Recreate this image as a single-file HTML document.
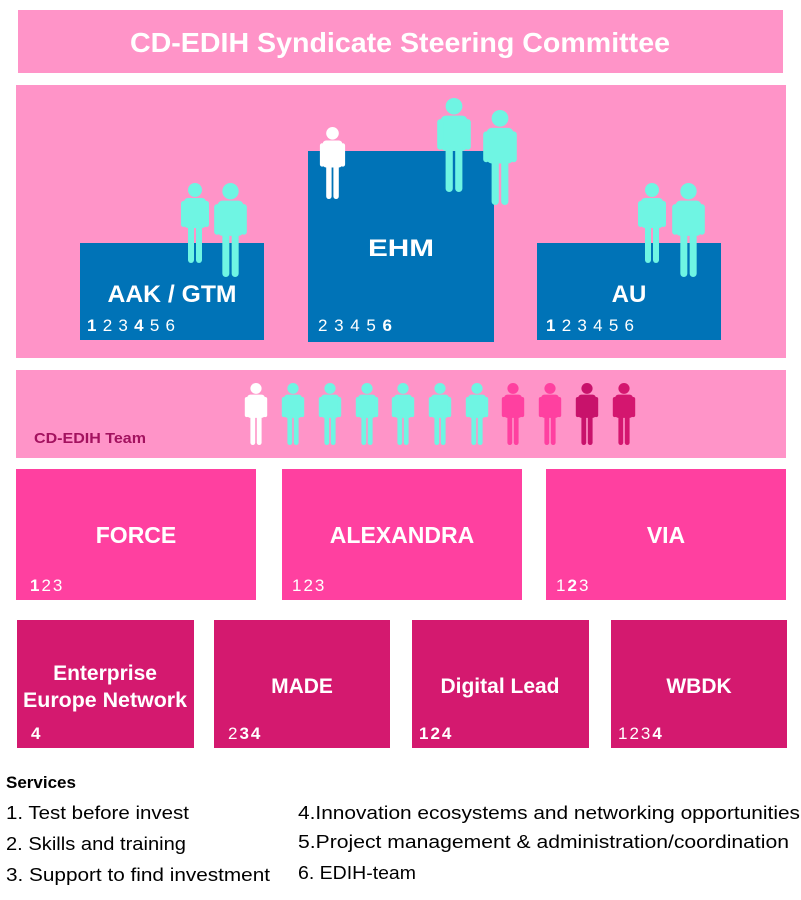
<!DOCTYPE html>
<html><head><meta charset="utf-8"><style>
html,body{margin:0;padding:0;background:#fff;}
svg{display:block;}
text{font-family:"Liberation Sans",sans-serif;}
</style></head><body>
<svg width="801" height="900" viewBox="0 0 801 900" xmlns="http://www.w3.org/2000/svg">
<defs>
<symbol id="p" viewBox="0 0 30 80" preserveAspectRatio="none">
<circle cx="15" cy="7" r="7"/>
<rect x="4" y="15" width="22" height="30" rx="4"/>
<rect x="1" y="18" width="5" height="26" rx="2.5"/>
<rect x="24" y="18" width="5" height="26" rx="2.5"/>
<rect x="8" y="40" width="6" height="40" rx="3"/>
<rect x="16" y="40" width="6" height="40" rx="3"/>
</symbol>
</defs>
<rect x="18" y="10" width="765" height="63" fill="#ff94c8"/>
<text x="400" y="52" text-anchor="middle" font-size="28" font-weight="bold" fill="#fff" textLength="540" lengthAdjust="spacingAndGlyphs">CD-EDIH Syndicate Steering Committee</text>

<rect x="16" y="85" width="770" height="273" fill="#ff94c8"/>
<rect x="80" y="243" width="184" height="97" fill="#0073b7"/>
<rect x="308" y="151" width="186" height="191" fill="#0073b7"/>
<rect x="537" y="243" width="184" height="97" fill="#0073b7"/>
<text x="172" y="302" text-anchor="middle" font-size="24" font-weight="bold" fill="#fff" textLength="129" lengthAdjust="spacingAndGlyphs">AAK / GTM</text>
<text x="401" y="256" text-anchor="middle" font-size="24" font-weight="bold" fill="#fff" textLength="66" lengthAdjust="spacingAndGlyphs">EHM</text>
<text x="629" y="302" text-anchor="middle" font-size="24" font-weight="bold" fill="#fff">AU</text>
<text x="87" y="331" font-size="17" fill="#fff" textLength="88"><tspan font-weight="bold">1</tspan>23<tspan font-weight="bold">4</tspan>56</text>
<text x="318" y="331" font-size="17" fill="#fff" textLength="74">2345<tspan font-weight="bold">6</tspan></text>
<text x="546" y="331" font-size="17" fill="#fff" textLength="88"><tspan font-weight="bold">1</tspan>23456</text>
<g fill="#6ff5e3">
<use href="#p" x="180" y="183" width="30" height="80"/>
<use href="#p" x="213" y="183" width="35" height="94"/>
<use href="#p" x="436" y="98" width="36" height="94"/>
<use href="#p" x="482" y="110" width="36" height="95"/>
<use href="#p" x="637" y="183" width="30" height="80"/>
<use href="#p" x="671" y="183" width="35" height="94"/>
</g>
<use href="#p" x="319" y="127" width="27" height="72" fill="#fff"/>

<rect x="16" y="370" width="770" height="88" fill="#ff94c8"/>
<text x="34" y="443" font-size="15" font-weight="bold" fill="#a3125f" textLength="112" lengthAdjust="spacingAndGlyphs">CD-EDIH Team</text>
<use href="#p" x="244" y="383" width="24" height="62" fill="#fff"/>
<g fill="#6ff5e3">
<use href="#p" x="281" y="383" width="24" height="62"/>
<use href="#p" x="318" y="383" width="24" height="62"/>
<use href="#p" x="355" y="383" width="24" height="62"/>
<use href="#p" x="391" y="383" width="24" height="62"/>
<use href="#p" x="428" y="383" width="24" height="62"/>
<use href="#p" x="465" y="383" width="24" height="62"/>
</g>
<use href="#p" x="501" y="383" width="24" height="62" fill="#ff40a0"/>
<use href="#p" x="538" y="383" width="24" height="62" fill="#ff40a0"/>
<use href="#p" x="575" y="383" width="24" height="62" fill="#c8126b"/>
<use href="#p" x="612" y="383" width="24" height="62" fill="#d4166f"/>

<g fill="#ff40a0">
<rect x="16" y="469" width="240" height="131"/>
<rect x="282" y="469" width="240" height="131"/>
<rect x="546" y="469" width="240" height="131"/>
</g>
<g fill="#fff" font-size="23" font-weight="bold" text-anchor="middle">
<text x="136" y="543">FORCE</text>
<text x="402" y="543">ALEXANDRA</text>
<text x="666" y="543">VIA</text>
</g>
<g fill="#fff" font-size="17" letter-spacing="2">
<text x="30" y="591"><tspan font-weight="bold">1</tspan>23</text>
<text x="292" y="591">123</text>
<text x="556" y="591">1<tspan font-weight="bold">2</tspan>3</text>
</g>

<g fill="#d4196f">
<rect x="17" y="620" width="177" height="128"/>
<rect x="214" y="620" width="176" height="128"/>
<rect x="412" y="620" width="177" height="128"/>
<rect x="611" y="620" width="176" height="128"/>
</g>
<g fill="#fff" font-size="21" font-weight="bold" text-anchor="middle">
<text x="105" y="680">Enterprise</text>
<text x="105" y="707" textLength="164" lengthAdjust="spacingAndGlyphs">Europe Network</text>
<text x="302" y="693">MADE</text>
<text x="500" y="693">Digital Lead</text>
<text x="699" y="693">WBDK</text>
</g>
<g fill="#fff" font-size="17" letter-spacing="2">
<text x="31" y="739" font-weight="bold">4</text>
<text x="228" y="739">2<tspan font-weight="bold">34</tspan></text>
<text x="419" y="739" font-weight="bold">124</text>
<text x="618" y="739">123<tspan font-weight="bold">4</tspan></text>
</g>

<g fill="#000">
<text x="6" y="788" font-size="17" font-weight="bold">Services</text>
<text x="6" y="819" font-size="18" textLength="183" lengthAdjust="spacingAndGlyphs">1. Test before invest</text>
<text x="6" y="850" font-size="18" textLength="180" lengthAdjust="spacingAndGlyphs">2. Skills and training</text>
<text x="6" y="881" font-size="18" textLength="264" lengthAdjust="spacingAndGlyphs">3. Support to find investment</text>
<text x="298" y="819" font-size="18" textLength="502" lengthAdjust="spacingAndGlyphs">4.Innovation ecosystems and networking opportunities</text>
<text x="298" y="848" font-size="18" textLength="491" lengthAdjust="spacingAndGlyphs">5.Project management &amp; administration/coordination</text>
<text x="298" y="879" font-size="18" textLength="118" lengthAdjust="spacingAndGlyphs">6. EDIH-team</text>
</g>
</svg>
</body></html>
